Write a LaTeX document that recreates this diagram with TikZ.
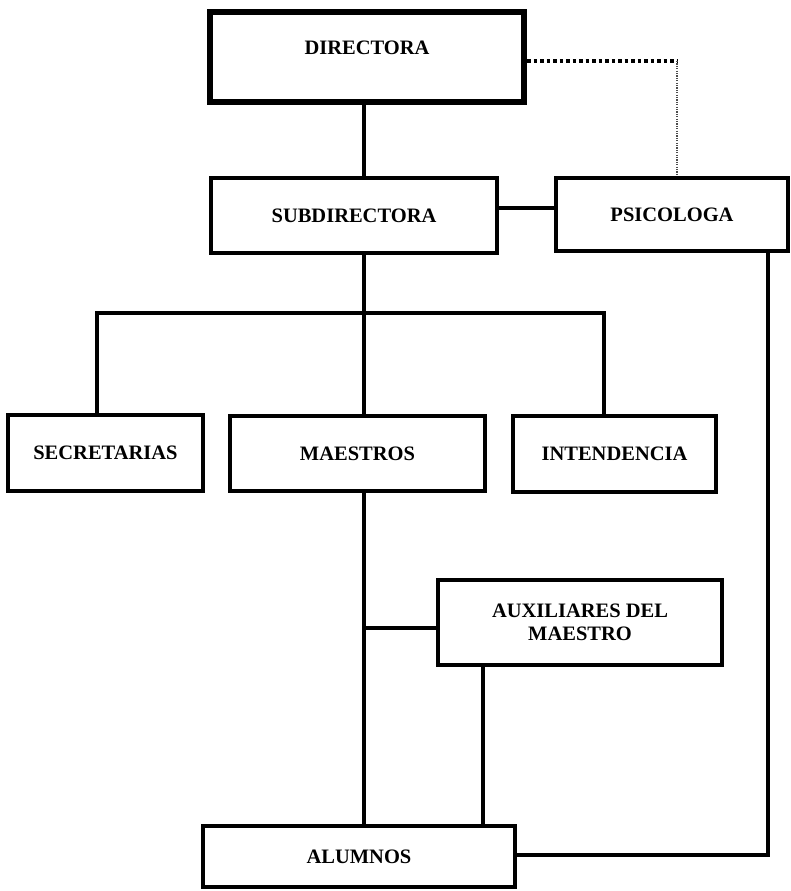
\documentclass[tikz,border=0pt]{standalone}
\usepackage{fontspec}
\setmainfont{Liberation Serif}
\begin{document}
\begin{tikzpicture}[x=1pt,y=-1pt,
  txt/.style={font=\fontsize{20.5}{23}\selectfont\bfseries, align=center, inner sep=0pt},
  box/.style={draw, line width=4pt, rectangle, inner sep=0pt, txt},
  bigbox/.style={draw, line width=6pt, rectangle, inner sep=0pt},
  conn/.style={line width=4pt},
  dots/.style={line width=3.5pt, dash pattern=on 3.5pt off 3pt},
  thindots/.style={line width=1.2pt, dash pattern=on 1.2pt off 1.2pt, black!70}]
\useasboundingbox (0,0) rectangle (791,891);
% boxes
\node[bigbox, minimum width=314pt, minimum height=90pt,
      label={[txt, yshift=9pt]center:DIRECTORA}] (dir) at (367,57) {};
\node[box, minimum width=286pt, minimum height=75pt] (sub) at (354,215.5) {SUBDIRECTORA};
\node[box, minimum width=232pt, minimum height=73pt] (psi) at (672,214.5) {PSICOLOGA};
\node[box, minimum width=195pt, minimum height=76pt] (sec) at (105.5,453) {SECRETARIAS};
\node[box, minimum width=255pt, minimum height=75pt] (mae) at (357.5,453.5) {MAESTROS};
\node[box, minimum width=203pt, minimum height=76pt] (int) at (614.5,454) {INTENDENCIA};
\node[box, minimum width=284pt, minimum height=85pt] (aux) at (580,622.5) {AUXILIARES DEL\\MAESTRO};
\node[box, minimum width=312pt, minimum height=61pt] (alu) at (359,856.5) {ALUMNOS};
% reference coordinates
\coordinate (vx) at (364,0);
\coordinate (secx) at (97,0);
\coordinate (intx) at (604,0);
\coordinate (busy) at (0,313);
\coordinate (psiy) at (0,208);
\coordinate (dotx) at (677,0);
\coordinate (doty) at (0,61);
\coordinate (auxy) at (0,628);
\coordinate (auxx) at (483,0);
\coordinate (psix) at (768,0);
\coordinate (aluy) at (0,855);
% connectors
\draw[conn] (dir.south -| vx) -- (sub.north -| vx);
\draw[conn] (sub.east |- psiy) -- (psi.west |- psiy);
\draw[conn] (sub.south -| vx) -- (mae.north -| vx);
\draw[conn] (sec.north -| secx) -- (secx |- busy) -- (intx |- busy) -- (int.north -| intx);
\draw[conn] (mae.south -| vx) -- (alu.north -| vx);
\draw[conn] (vx |- auxy) -- (aux.west |- auxy);
\draw[conn] (aux.south -| auxx) -- (alu.north -| auxx);
\draw[conn] (alu.east |- aluy) -- (psix |- aluy) -- (psi.south -| psix);
\draw[dots] (dir.east |- doty) -- (dotx |- doty);
\draw[thindots] (dotx |- doty) -- (psi.north -| dotx);
\end{tikzpicture}
\end{document}
